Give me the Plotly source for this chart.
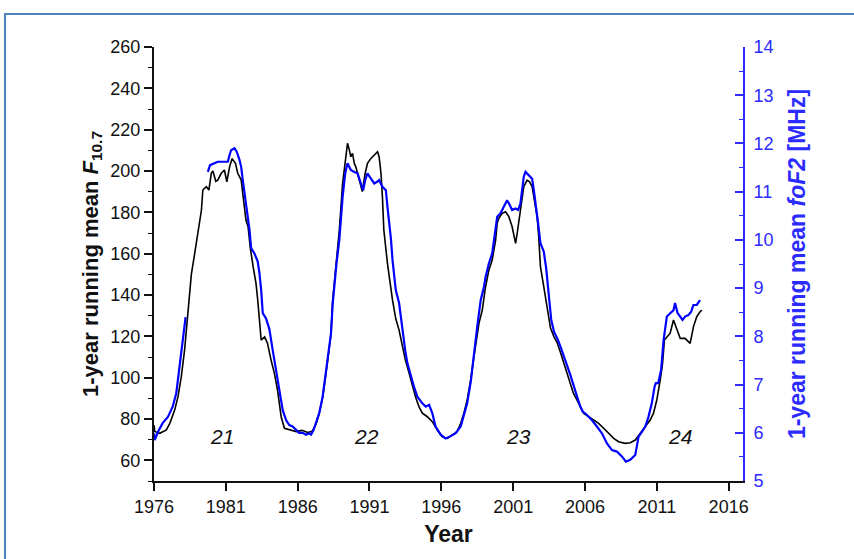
import plotly.graph_objects as go

# ---- data ----
f107_years = [1976.0, 1976.05, 1976.4, 1976.86, 1977.1, 1977.44, 1977.67, 1977.9, 1978.13, 1978.3,
              1978.6, 1978.83, 1979.06, 1979.3, 1979.4, 1979.64, 1979.82, 1979.99, 1980.1, 1980.3,
              1980.44, 1980.68, 1980.9, 1981.07, 1981.26, 1981.44, 1981.67, 1981.83, 1982.07, 1982.3,
              1982.4, 1982.55, 1982.7, 1982.9, 1983.1, 1983.22, 1983.46, 1983.7, 1983.9, 1984.15,
              1984.38, 1984.6, 1984.85, 1985.08, 1985.42, 1985.9, 1986.3, 1986.7, 1987.0, 1987.28,
              1987.5, 1987.74, 1987.97, 1988.2, 1988.32, 1988.43, 1988.67, 1988.9, 1989.13, 1989.31,
              1989.47, 1989.6, 1989.7, 1989.82, 1989.94, 1990.05, 1990.28, 1990.5, 1990.7, 1990.86,
              1991.1, 1991.33, 1991.56, 1991.67, 1991.8, 1991.9, 1992.0, 1992.25, 1992.5, 1992.6,
              1992.83, 1993.06, 1993.3, 1993.5, 1993.76, 1994.0, 1994.2, 1994.45, 1994.68, 1995.03,
              1995.37, 1995.72, 1996.07, 1996.42, 1996.76, 1997.1, 1997.35, 1997.57, 1997.8, 1998.05,
              1998.27, 1998.62, 1998.85, 1999.08, 1999.31, 1999.54, 1999.78, 1999.89, 2000.0, 2000.24,
              2000.47, 2000.7, 2000.93, 2001.17, 2001.28, 2001.4, 2001.63, 2001.74, 2001.97, 2002.14,
              2002.32, 2002.5, 2002.67, 2002.78, 2002.9, 2003.13, 2003.36, 2003.6, 2003.83, 2004.06,
              2004.3, 2004.52, 2004.75, 2004.99, 2005.2, 2005.44, 2005.68, 2005.9, 2006.26, 2006.6,
              2006.95, 2007.3, 2007.65, 2008.0, 2008.34, 2008.8, 2009.15, 2009.5, 2009.85, 2010.2,
              2010.54, 2010.77, 2011.0, 2011.24, 2011.4, 2011.53, 2011.7, 2011.93, 2012.16, 2012.39,
              2012.63, 2012.97, 2013.32, 2013.55, 2013.78, 2014.01, 2014.13]
f107_values = [77, 74, 73.1, 74.7, 77.9, 84.3, 90.8, 100.5, 113.4, 127,
               150, 160, 169.8, 181, 190.8, 192.4, 190.8, 198.9, 200, 195,
               195.6, 198.9, 200.5, 194.8, 202, 206, 203.7, 198.9, 195.6, 182.7,
               176.3, 173, 163, 153.7, 145.6, 137.6, 118.2, 119.8, 116.6, 108.5,
               102.1, 94, 81.1, 75.5, 74.7, 73.9, 74.5, 73.5, 74, 77.5,
               82.5, 90.5, 102, 113, 121, 137, 155.3, 171.4, 194, 203.7,
               213.4, 210.1, 206.9, 208.5, 203.7, 202, 195.6, 190, 198.9, 203.7,
               206.1, 207.7, 209.3, 206.9, 198.9, 187.5, 171.4, 155.3, 142, 137.6,
               128.5, 123, 115, 108.5, 102.1, 95.6, 90.8, 85.9, 82.8, 81.1,
               78.7, 74.7, 71.4, 70.6, 72.3, 73.9, 77.9, 82.8, 89.2, 99,
               110.1, 126.3, 132.7, 144, 152, 156.9, 166.6, 174.7, 177.1, 179.5,
               180.3, 177.9, 173, 165, 169.8, 176.3, 187.5, 192.4, 195.6, 194.8,
               192.4, 185.9, 177.9, 168.2, 153.7, 144, 134, 124, 120, 117,
               112, 107, 102.1, 97.3, 92.4, 89.2, 85.9, 82.8, 81.1, 79.5,
               77.9, 75.5, 73.1, 70.6, 69, 68.2, 68.5, 69.8, 73.1, 76.3,
               79.5, 82.8, 89.2, 98.9, 106.9, 118.2, 119.8, 121.5, 127.9, 123,
               119, 119, 116.6, 124.6, 129.5, 131.9, 132.7]

fof2_years = [1976.0, 1976.05, 1976.28, 1976.6, 1976.97, 1977.3, 1977.55, 1977.78, 1978.0, 1978.2,
              1979.0,
              1979.75, 1979.9, 1980.2, 1980.44, 1980.68, 1980.9, 1981.14, 1981.26, 1981.37, 1981.6,
              1981.76, 1981.95, 1982.07, 1982.18, 1982.3, 1982.42, 1982.53, 1982.65, 1982.76, 1982.99,
              1983.22, 1983.34, 1983.46, 1983.57, 1983.8, 1984.03, 1984.26, 1984.5, 1984.73, 1984.96,
              1985.2, 1985.42, 1985.65, 1985.9, 1986.1, 1986.35, 1986.58, 1986.8, 1986.93, 1987.1,
              1987.28, 1987.5, 1987.74, 1987.97, 1988.2, 1988.32, 1988.43, 1988.55, 1988.7, 1988.9,
              1989.13, 1989.31, 1989.47, 1989.6, 1989.7, 1989.94, 1990.17, 1990.4, 1990.56, 1990.7,
              1990.86, 1991.1, 1991.33, 1991.56, 1991.67, 1991.9, 1992.14, 1992.25, 1992.37, 1992.5,
              1992.6, 1992.72, 1992.83, 1993.06, 1993.18, 1993.3, 1993.48, 1993.64, 1993.88, 1994.1,
              1994.33, 1994.68, 1994.92, 1995.15, 1995.37, 1995.6, 1995.96, 1996.3, 1996.65, 1997.0,
              1997.35, 1997.57, 1997.8, 1998.05, 1998.27, 1998.5, 1998.74, 1998.97, 1999.08, 1999.31,
              1999.54, 1999.66, 1999.78, 1999.89, 2000.12, 2000.35, 2000.58, 2000.7, 2000.93, 2001.17,
              2001.35, 2001.51, 2001.63, 2001.74, 2001.86, 2002.09, 2002.32, 2002.44, 2002.6, 2002.74,
              2002.9, 2003.13, 2003.3, 2003.48, 2003.65, 2003.85, 2004.1, 2004.35, 2004.52, 2004.75,
              2004.99, 2005.2, 2005.44, 2005.68, 2005.85, 2006.14, 2006.49, 2006.83, 2007.18, 2007.53,
              2007.88, 2008.22, 2008.57, 2008.85, 2009.15, 2009.5, 2009.73, 2009.96, 2010.2, 2010.42,
              2010.65, 2010.84, 2010.93, 2011.1, 2011.3, 2011.47, 2011.7, 2011.93, 2012.16, 2012.27,
              2012.45, 2012.63, 2012.79, 2012.97, 2013.2, 2013.39, 2013.55, 2013.78, 2014.01]
fof2_values = [5.99, 5.85, 6.02, 6.20, 6.33, 6.54, 6.82, 7.37, 7.92, 8.40,
               None,
               11.41, 11.55, 11.59, 11.62, 11.62, 11.62, 11.62, 11.76, 11.86, 11.90,
               11.83, 11.66, 11.51, 11.24, 10.97, 10.76, 10.48, 10.20, 9.83, 9.72,
               9.55, 9.31, 8.96, 8.48, 8.37, 8.15, 7.72, 7.30, 6.89, 6.47,
               6.26, 6.16, 6.13, 6.06, 6.00, 6.00, 5.96, 5.99, 5.96, 6.05,
               6.20, 6.41, 6.75, 7.23, 7.72, 8.06, 8.64, 9.11, 9.50, 10.00,
               10.89, 11.38, 11.59, 11.51, 11.45, 11.41, 11.38, 11.17, 11.03, 11.24,
               11.38, 11.27, 11.17, 11.21, 11.24, 11.10, 11.03, 10.69, 10.41, 10.00,
               9.59, 9.29, 8.96, 8.69, 8.41, 8.06, 7.72, 7.44, 7.16, 6.95,
               6.75, 6.61, 6.54, 6.58, 6.41, 6.13, 5.96, 5.88, 5.93, 5.99,
               6.13, 6.37, 6.61, 7.06, 7.65, 8.20, 8.75, 9.03, 9.23, 9.51,
               9.72, 10.00, 10.27, 10.48, 10.55, 10.69, 10.82, 10.76, 10.62, 10.65,
               10.62, 10.76, 11.10, 11.31, 11.41, 11.34, 11.27, 11.03, 10.69, 10.34,
               9.93, 9.76, 9.41, 8.86, 8.34, 8.09, 7.94, 7.74, 7.61, 7.40,
               7.19, 6.97, 6.76, 6.54, 6.44, 6.37, 6.26, 6.13, 5.99, 5.78,
               5.64, 5.61, 5.51, 5.40, 5.44, 5.54, 5.92, 6.02, 6.13, 6.33,
               6.61, 6.95, 7.03, 7.03, 7.30, 7.92, 8.41, 8.48, 8.54, 8.69,
               8.48, 8.41, 8.34, 8.41, 8.44, 8.51, 8.65, 8.65, 8.75]

cycle_labels = ["21", "22", "23", "24"]
cycle_years = [1980.7, 1990.8, 2001.4, 2012.6]
cycle_level = [71.5, 71.5, 71.5, 71.5]

x_ticks = [1976, 1981, 1986, 1991, 1996, 2001, 2006, 2011, 2016]

FONT = "Liberation Sans, Arial, sans-serif"
BLUE = "#0000ff"
AXBLUE = "#2b2bff"

fig = go.Figure()
fig.add_trace(go.Scatter(x=fof2_years, y=fof2_values, mode="lines", yaxis="y2",
                         line=dict(color=BLUE, width=2.2), connectgaps=False,
                         name="foF2", showlegend=False))
fig.add_trace(go.Scatter(x=f107_years, y=f107_values, mode="lines",
                         line=dict(color="#000000", width=1.6),
                         name="F10.7", showlegend=False))

for lab, xv, yv in zip(cycle_labels, cycle_years, cycle_level):
    fig.add_annotation(x=xv, y=yv, xref="x", yref="y", text="<i>" + lab + "</i>",
                       showarrow=False, font=dict(family=FONT, size=21, color="#111111"))

fig.update_layout(
    width=854, height=559,
    margin=dict(l=154, r=111, t=47, b=78),
    paper_bgcolor="white", plot_bgcolor="white",
    font=dict(family=FONT, color="#111111"),
    xaxis=dict(range=[1976, 2017], tickvals=x_ticks, ticktext=[str(v) for v in x_ticks],
               showgrid=False, zeroline=False, showline=True, linecolor="#111111", linewidth=2,
               ticks="outside", ticklen=8, tickwidth=1.5, tickcolor="#111111",
               tickfont=dict(family=FONT, size=18, color="#111111"),
               title=dict(text="<b>Year</b>", font=dict(family=FONT, size=23, color="#111111"),
                          standoff=10)),
    yaxis=dict(range=[50, 260], tick0=60, dtick=20,
               showgrid=False, zeroline=False, showline=True, linecolor="#111111", linewidth=2,
               ticks="outside", ticklen=8, tickwidth=1.5, tickcolor="#111111",
               minor=dict(dtick=10, tick0=60, ticks="outside", ticklen=4, tickcolor="#111111", tickwidth=1.2),
               tickfont=dict(family=FONT, size=18, color="#111111"),
               title=dict(text="<b>1-year running mean <i>F</i><sub>10.7</sub></b>",
                          font=dict(family=FONT, size=22, color="#111111"), standoff=6)),
    yaxis2=dict(range=[5, 14], tick0=5, dtick=1, overlaying="y", side="right",
                showgrid=False, zeroline=False, showline=True, linecolor=AXBLUE, linewidth=2,
                ticks="inside", ticklen=8, tickwidth=1.5, tickcolor=AXBLUE,
                minor=dict(dtick=0.5, tick0=5, ticks="inside", ticklen=4, tickcolor=AXBLUE, tickwidth=1.2),
                tickfont=dict(family=FONT, size=18, color=AXBLUE), ticklabelstandoff=5,
                title=dict(text="<b>1-year running mean <i>foF2</i> [MHz]</b>",
                           font=dict(family=FONT, size=23, color=AXBLUE), standoff=16)),
)

# outer frame (top and left edges visible in the reference)
fig.add_shape(type="rect", xref="paper", yref="paper",
              x0=-0.253, x1=1.2, y0=-0.25, y1=1.076,
              line=dict(color="#4f81bd", width=2), fillcolor="rgba(0,0,0,0)", layer="below")

fig.write_html("out.html")
